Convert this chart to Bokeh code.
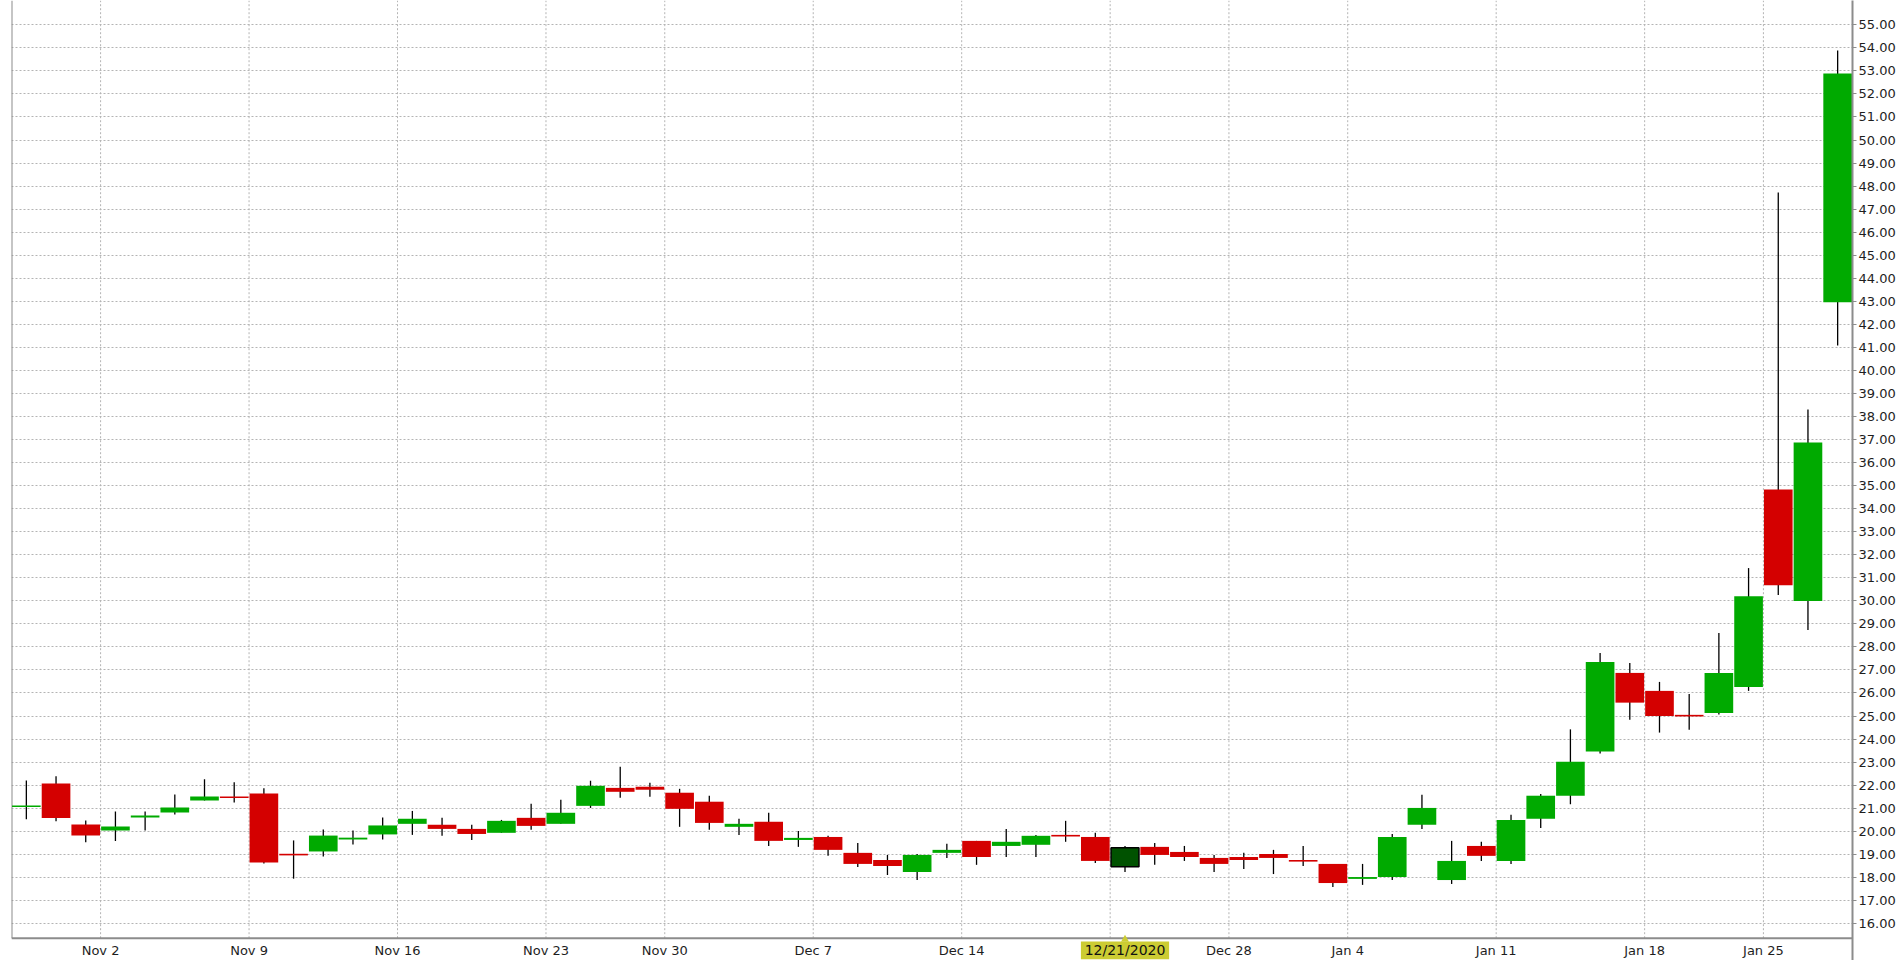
import pandas as pd
from bokeh.plotting import figure
from bokeh.models import Range1d, FixedTicker, PrintfTickFormatter, ColumnDataSource
from bokeh.core.properties import value
from bokeh.embed import file_html
from bokeh.resources import INLINE

# ---------------- data ----------------
dates = [
    "2020-10-28", "2020-10-29", "2020-10-30",
    "2020-11-02", "2020-11-03", "2020-11-04", "2020-11-05", "2020-11-06",
    "2020-11-09", "2020-11-10", "2020-11-11", "2020-11-12", "2020-11-13",
    "2020-11-16", "2020-11-17", "2020-11-18", "2020-11-19", "2020-11-20",
    "2020-11-23", "2020-11-24", "2020-11-25", "2020-11-27",
    "2020-11-30", "2020-12-01", "2020-12-02", "2020-12-03", "2020-12-04",
    "2020-12-07", "2020-12-08", "2020-12-09", "2020-12-10", "2020-12-11",
    "2020-12-14", "2020-12-15", "2020-12-16", "2020-12-17", "2020-12-18",
    "2020-12-21", "2020-12-22", "2020-12-23", "2020-12-24",
    "2020-12-28", "2020-12-29", "2020-12-30", "2020-12-31",
    "2021-01-04", "2021-01-05", "2021-01-06", "2021-01-07", "2021-01-08",
    "2021-01-11", "2021-01-12", "2021-01-13", "2021-01-14", "2021-01-15",
    "2021-01-19", "2021-01-20", "2021-01-21", "2021-01-22",
    "2021-01-25", "2021-01-26", "2021-01-27",
]
opens = [21.05, 22.07, 20.29, 20.03, 20.60, 20.81, 21.33, 21.51, 21.64, 19.02,
         19.12, 19.64, 19.86, 20.32, 20.28, 20.10, 19.93, 20.58, 20.32, 21.10,
         21.88, 21.93, 21.67, 21.28, 20.19, 20.41, 19.62, 19.75, 19.06, 18.75,
         18.23, 19.06, 19.58, 19.36, 19.41, 19.84, 19.75, 18.46, 19.32, 19.10,
         18.84, 18.88, 19.01, 18.75, 18.58, 17.93, 18.01, 20.28, 17.88, 19.36,
         18.71, 20.54, 21.54, 23.46, 26.87, 26.09, 25.05, 25.13, 26.26, 34.83,
         29.99, 42.96]
highs = [22.20, 22.38, 20.46, 20.86, 20.86, 21.59, 22.25, 22.12, 21.86, 19.60,
         20.07, 20.03, 20.59, 20.88, 20.58, 20.28, 20.49, 21.19, 21.36, 22.19,
         22.80, 22.10, 21.84, 21.54, 20.54, 20.80, 20.01, 19.80, 19.49, 18.97,
         19.01, 19.45, 19.58, 20.10, 19.84, 20.45, 19.93, 19.36, 19.49, 19.36,
         18.97, 19.06, 19.19, 19.36, 18.58, 18.58, 19.88, 21.58, 19.58, 19.54,
         20.71, 21.62, 24.42, 27.73, 27.30, 26.48, 25.96, 28.60, 31.42, 47.72,
         38.30, 53.89]
lows = [20.52, 20.43, 19.52, 19.57, 20.03, 20.72, 21.33, 21.25, 18.60, 17.94,
        18.90, 19.42, 19.64, 19.84, 19.80, 19.62, 19.93, 20.06, 20.32, 21.01,
        21.45, 21.49, 20.19, 20.06, 19.84, 19.36, 19.32, 18.93, 18.45, 18.10,
        17.88, 18.84, 18.54, 18.88, 18.88, 19.54, 18.62, 18.23, 18.54, 18.71,
        18.23, 18.36, 18.14, 18.49, 17.58, 17.67, 17.88, 20.10, 17.71, 18.71,
        18.58, 20.14, 21.17, 23.37, 24.84, 24.28, 24.40, 25.06, 26.09, 30.25,
        28.73, 41.08]
closes = [21.12, 20.57, 19.81, 20.20, 20.68, 21.03, 21.51, 21.44, 18.64, 18.95,
          19.81, 19.72, 20.25, 20.54, 20.10, 19.88, 20.45, 20.23, 20.80, 21.97,
          21.71, 21.80, 20.97, 20.36, 20.32, 19.58, 19.71, 19.19, 18.58, 18.49,
          18.97, 19.19, 18.88, 19.54, 19.80, 19.77, 18.71, 19.28, 18.97, 18.88,
          18.58, 18.75, 18.84, 18.68, 17.75, 18.01, 19.75, 21.01, 18.71, 18.93,
          20.49, 21.54, 23.01, 27.34, 25.58, 25.00, 24.98, 26.87, 30.20, 30.68,
          36.87, 52.89]
price_ticks = list(range(16, 56))
crosshair_date = "2020-12-21"
crosshair_label = "12/21/2020"

# ---------------- styling / layout constants ----------------
UP, DOWN, HILITE = "#00aa00", "#d40000", "#005200"
AX = "#8c8c8c"
GRID = "#b4b4b4"
FONT = "DejaVu Sans"
Y_TOP, Y_BOTTOM = 56.055, 14.388      # visible price range of the frame
AXIS_FLOOR = 15.356                   # where the time axis line sits
LABEL_Y = 14.83                       # centre of the time labels
CROSS_TIP = 15.30

# ---------------- derived ----------------
d = pd.to_datetime(pd.Series(dates))
n = len(dates)
xs = [i + 0.5 for i in range(n)]
hi = dates.index(crosshair_date)

tick_pos, tick_lab = [], []
for i in range(1, n):
    if d[i].isocalendar().week != d[i - 1].isocalendar().week:
        monday = d[i] - pd.Timedelta(days=d[i].weekday())
        tick_pos.append(i)
        tick_lab.append(monday.strftime("%b ") + str(monday.day))

keep = [i for i in range(n) if i != hi]
src = ColumnDataSource(dict(
    x=[xs[i] for i in keep],
    high=[highs[i] for i in keep],
    low=[lows[i] for i in keep],
    top=[max(opens[i], closes[i]) for i in keep],
    bot=[min(opens[i], closes[i]) for i in keep],
    color=[UP if closes[i] >= opens[i] else DOWN for i in keep],
))
hsrc = ColumnDataSource(dict(
    x=[xs[hi]], high=[highs[hi]], low=[lows[hi]],
    top=[max(opens[hi], closes[hi])], bot=[min(opens[hi], closes[hi])],
))

p = figure(width=1902, height=960, output_backend="svg", toolbar_location=None,
           x_range=Range1d(0, n), y_range=Range1d(Y_BOTTOM, Y_TOP),
           x_axis_location=None, y_axis_location="right",
           min_border_left=11, min_border_top=0, min_border_bottom=0,
           min_border_right=50,
           background_fill_color="white", border_fill_color="white",
           outline_line_color=None)

# price axis (right)
p.yaxis.ticker = FixedTicker(ticks=price_ticks)
p.yaxis.formatter = PrintfTickFormatter(format="%.2f")
p.yaxis.major_tick_out = 4
p.yaxis.major_tick_in = 0
p.yaxis.major_tick_line_color = AX
p.yaxis.minor_tick_line_color = None
p.yaxis.axis_line_color = AX
p.yaxis.axis_line_width = 2
p.yaxis.major_label_text_font = FONT
p.yaxis.major_label_text_font_size = "13px"
p.yaxis.major_label_text_color = "#1e1e1e"
p.yaxis.major_label_standoff = 2

p.ygrid.ticker = FixedTicker(ticks=price_ticks)
p.ygrid.grid_line_color = GRID
p.ygrid.grid_line_dash = "2 2"
p.xgrid.grid_line_color = None

# vertical week grid lines, stopping at the time axis
p.segment(x0=tick_pos, y0=[AXIS_FLOOR] * len(tick_pos), x1=tick_pos,
          y1=[Y_TOP] * len(tick_pos), line_color=GRID, line_dash="2 2", line_width=1)

# time axis line and left border
p.segment(x0=[0], y0=[AXIS_FLOOR], x1=[n], y1=[AXIS_FLOOR], line_color=AX, line_width=2)
p.segment(x0=[0], y0=[AXIS_FLOOR], x1=[0], y1=[Y_TOP], line_color=AX, line_width=2)

# time labels
lab_pos = [t for t, l in zip(tick_pos, tick_lab) if t != hi]
lab_txt = [l for t, l in zip(tick_pos, tick_lab) if t != hi]
p.text(x=lab_pos, y=[LABEL_Y] * len(lab_pos), text=lab_txt,
       text_font=value(FONT), text_font_size="13px", text_color="#1e1e1e",
       text_align="center", text_baseline="middle")

# candles
p.segment(x0="x", y0="low", x1="x", y1="high", source=src, line_color="black", line_width=1.3)
p.vbar(x="x", width=0.965, top="top", bottom="bot", source=src,
       fill_color="color", line_color=None)
p.segment(x0="x", y0="low", x1="x", y1="high", source=hsrc, line_color="black", line_width=1.3)
p.vbar(x="x", width=0.94, top="top", bottom="bot", source=hsrc,
       fill_color=HILITE, line_color="black", line_width=1.5)

# crosshair date label below the axis
CROSS = "#cccc33"
p.rect(x=[xs[hi]], y=[LABEL_Y], width=2.97, height=0.765, fill_color=CROSS,
       line_color=None)
p.scatter(x=[xs[hi]], y=[CROSS_TIP], marker="triangle", size=8,
          fill_color=CROSS, line_color=None)
p.text(x=[xs[hi]], y=[LABEL_Y], text=[crosshair_label],
       text_font=value(FONT), text_font_size="14px", text_color="#111111",
       text_align="center", text_baseline="middle")

open("out.html", "w").write(file_html(p, INLINE))
